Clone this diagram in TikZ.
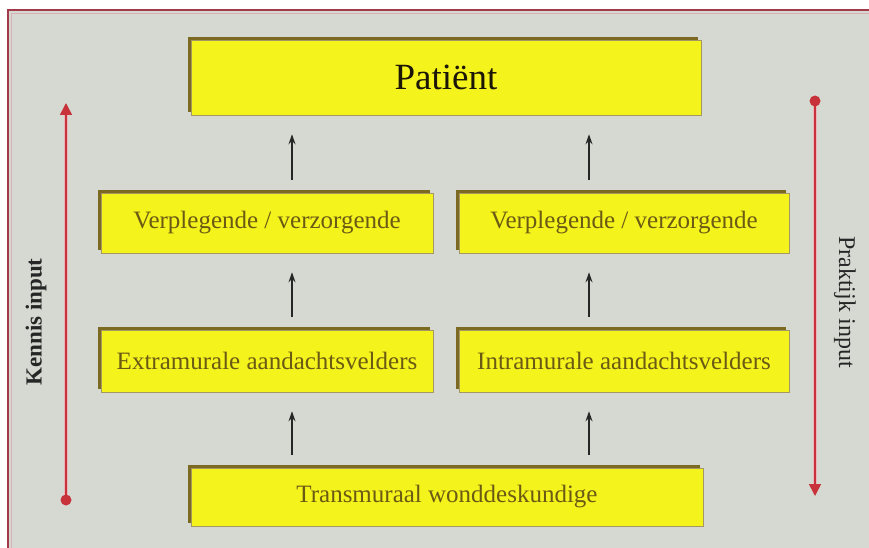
\documentclass[tikz,border=0pt]{standalone}
\usepackage{fontspec}
\setmainfont{Liberation Serif}
\usetikzlibrary{arrows.meta}
\definecolor{bgc}{HTML}{D5D9D1}
\definecolor{framec}{HTML}{A23A4C}
\definecolor{boxy}{HTML}{F4F31C}
\definecolor{boxedge}{HTML}{7D6A22}
\definecolor{boxtxt}{HTML}{6B5A14}
\definecolor{redc}{HTML}{C8323A}
\tikzset{
  ybox/.style={fill=boxy, draw=boxedge!70, line width=0.6pt, inner sep=0pt,
    text=boxtxt, font=\fontsize{25}{28}\selectfont},
  flow/.style={-{Stealth[length=10pt,width=7pt]}, line width=1.3pt, black!85,
    shorten <=13pt, shorten >=19pt},
  redline/.style={draw=redc, line width=1.6pt},
  redtip/.style={-{Triangle[length=12pt,width=12pt]}},
  side/.style={text=black!85, font=\fontsize{24}{26}\selectfont},
  halo/.style={draw=redc!35, line width=4pt}
}
\begin{document}
\begin{tikzpicture}[x=1pt,y=-1pt]
\useasboundingbox (0,0) rectangle (869,548);
\fill[white] (0,0) rectangle (869,548);
\fill[bgc] (8,10) rectangle (869,548);
\draw[framec, line width=1.6pt] (8,560) -- (8,10) -- (880,10);
\draw[framec!40, line width=0.6pt] (11,560) -- (11,13) -- (880,13);

% shadows (upper-left darker edge)
\foreach \a/\b/\c/\d in {191/40/701/115, 101/193/433/253, 459/193/789/253,
  101/330/433/392, 459/330/789/392, 191/468/703/526}{
  \fill[boxedge] (\a-3,\b-3) rectangle (\c-3,\d-3);
}

\node[ybox, minimum width=510pt, minimum height=75pt, text=black!75!boxtxt,
  font=\fontsize{37}{40}\selectfont] (pat) at (446,77.5) {Patiënt};
\node[ybox, minimum width=332pt, minimum height=60pt] (v1) at (267,223) {Verplegende / verzorgende};
\node[ybox, minimum width=330pt, minimum height=60pt] (v2) at (624,223) {Verplegende / verzorgende};
\node[ybox, minimum width=332pt, minimum height=62pt] (e1) at (267,361) {Extramurale aandachtsvelders};
\node[ybox, minimum width=330pt, minimum height=62pt] (e2) at (624,361) {Intramurale aandachtsvelders};
\node[ybox, minimum width=512pt, minimum height=58pt] (t) at (447,497) {Transmuraal wonddeskundige};

\coordinate (a1) at (292,0);
\coordinate (a2) at (589,0);
\draw[flow] (v1.north -| a1) -- (pat.south -| a1);
\draw[flow] (v2.north -| a2) -- (pat.south -| a2);
\draw[flow] (e1.north -| a1) -- (v1.south -| a1);
\draw[flow] (e2.north -| a2) -- (v2.south -| a2);
\draw[flow] (t.north -| a1) -- (e1.south -| a1);
\draw[flow] (t.north -| a2) -- (e2.south -| a2);

% side arrows
\coordinate (ls) at (66,500);
\coordinate (le) at (66,103);
\coordinate (rs) at (815,101);
\coordinate (re) at (815,496);
\draw[halo] (ls) -- (66,112);
\draw[halo] (rs) -- (815,487);
\draw[redline, redtip, redc] (ls) -- (le);
\draw[redline, redtip, redc] (rs) -- (re);
\fill[redc] (ls) circle (5.5pt);
\fill[redc] (rs) circle (5.5pt);

\node[side, rotate=90, font=\bfseries\fontsize{23}{26}\selectfont] (kl) at (36,322) {Kennis input};
\node[side, rotate=-90, font=\fontsize{24}{26}\selectfont] (pl) at (845,302) {Praktijk input};
\end{tikzpicture}
\end{document}
